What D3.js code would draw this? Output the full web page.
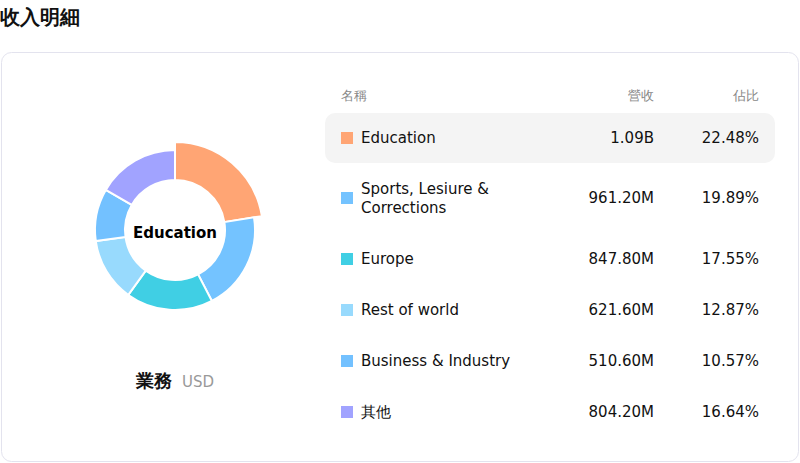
<!DOCTYPE html>
<html><head><meta charset="utf-8">
<script src="https://cdn.jsdelivr.net/npm/d3@7"></script>
<style>body{margin:0;background:#fff;font-family:"DejaVu Sans",sans-serif}</style>
</head><body><svg id="c" width="800" height="463"></svg>
<script>
const categories = ["Education","Sports, Lesiure & Corrections","Europe","Rest of world","Business & Industry","其他"];
const nameLines = [["Education"],["Sports, Lesiure &","Corrections"],["Europe"],["Rest of world"],["Business & Industry"],["其他"]];
const revenueLabels = ["1.09B","961.20M","847.80M","621.60M","510.60M","804.20M"];
const shares = [22.48,19.89,17.55,12.87,10.57,16.64];
const colors = ["#FFA574","#74C3FF","#40CFE4","#98DAFD","#73C1FF","#A1A3FF"];
const headers = ["名稱","營收","佔比"];

const svg = d3.select("#c");
svg.append("text").attr("x",0).attr("y",24).attr("font-size",20).attr("font-weight","bold").attr("fill","#111").text("收入明細");
svg.append("rect").attr("x",1.5).attr("y",52.5).attr("width",797).attr("height",409).attr("rx",10)
  .attr("fill","#fff").attr("stroke","#e3e3ee");

const g = svg.append("g").attr("transform","translate(175,230)");
const pie = d3.pie().sort(null).value(d=>d)(shares);
const arc = d3.arc().innerRadius(50).outerRadius(80);
const arcBig = d3.arc().innerRadius(50).outerRadius(88);
g.selectAll("path").data(pie).join("path")
  .attr("d",(d,i)=> i===0?arcBig(d):arc(d))
  .attr("fill",(d,i)=>colors[i]).attr("stroke","#fff").attr("stroke-width",2);
g.append("text").attr("text-anchor","middle").attr("y",8).attr("font-size",15).attr("font-weight","bold").text(categories[0]);

const lab = svg.append("text").attr("x",175).attr("y",387).attr("text-anchor","middle");
lab.append("tspan").attr("font-size",18).attr("font-weight","bold").attr("fill","#111").text("業務 ");
lab.append("tspan").attr("font-size",15).attr("fill","#999").attr("dx",4).text("USD");

svg.append("text").attr("x",341).attr("y",100).attr("font-size",13).attr("fill","#888").text(headers[0]);
svg.append("text").attr("x",654).attr("y",100).attr("text-anchor","end").attr("font-size",13).attr("fill","#888").text(headers[1]);
svg.append("text").attr("x",759).attr("y",100).attr("text-anchor","end").attr("font-size",13).attr("fill","#888").text(headers[2]);

const y = d3.scalePoint().domain(d3.range(categories.length)).range([138,412]);
const rowY = [138,198,259,310,361,412];
svg.append("rect").attr("x",325).attr("y",113).attr("width",450).attr("height",50).attr("rx",10).attr("fill","#f4f4f4");
categories.forEach((c,i)=>{
  const cy = rowY[i];
  svg.append("rect").attr("x",341).attr("y",cy-6).attr("width",12).attr("height",12).attr("fill",colors[i]);
  const lines = nameLines[i];
  lines.forEach((l,j)=>{
    svg.append("text").attr("x",361).attr("y",cy+5+(j-(lines.length-1)/2)*19).attr("font-size",15).attr("fill","#111").text(l);
  });
  svg.append("text").attr("x",654).attr("y",cy+5).attr("text-anchor","end").attr("font-size",15).attr("fill","#111").text(revenueLabels[i]);
  svg.append("text").attr("x",759).attr("y",cy+5).attr("text-anchor","end").attr("font-size",15).attr("fill","#111").text(shares[i].toFixed(2)+"%");
});
</script></body></html>
